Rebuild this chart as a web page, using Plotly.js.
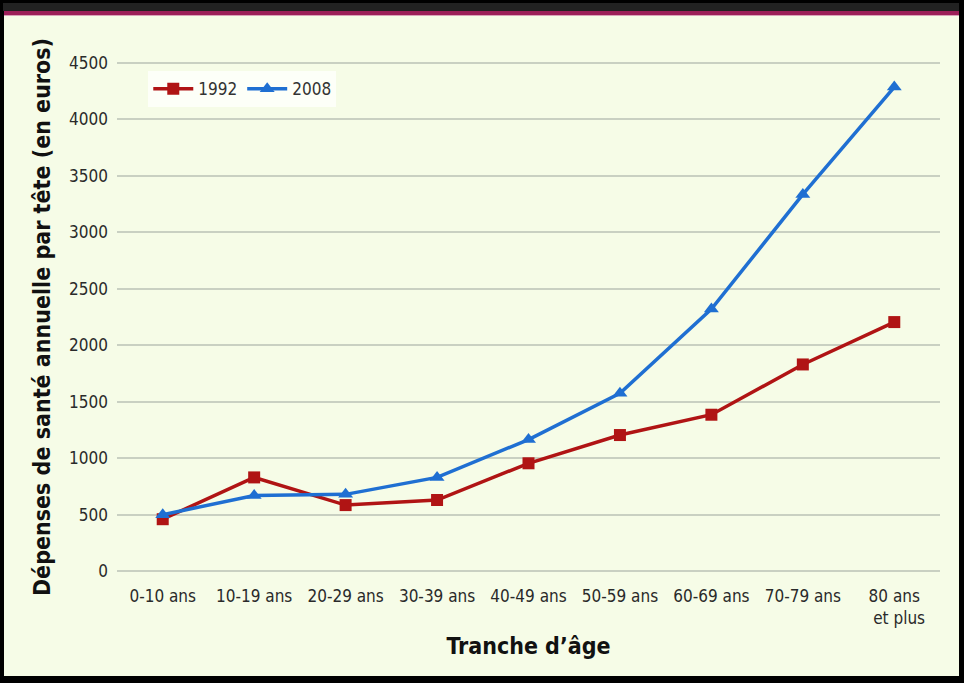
<!DOCTYPE html>
<html>
<head>
<meta charset="utf-8">
<script src="https://cdn.plot.ly/plotly-3.0.1.min.js"></script>
<style>
  html, body { margin:0; padding:0; background:#000; width:964px; height:683px; overflow:hidden; }
  #top { position:absolute; left:3px; top:3px; width:956px; height:8px; background:#222; }
  #stripe { position:absolute; left:4px; top:11px; width:955px; height:4px; background:#9c1f58; }
  #stripe2 { position:absolute; left:4px; top:15px; width:955px; height:1px; background:#d9a3b8; }
  #chart { position:absolute; left:4px; top:16px; width:955px; height:660px; }
</style>
</head>
<body>
<div id="top"></div><div id="stripe"></div><div id="stripe2"></div>
<div id="chart"></div>
<script>
const categories = ["0-10 ans","10-19 ans","20-29 ans","30-39 ans","40-49 ans","50-59 ans","60-69 ans","70-79 ans","80 ans<br>  et plus"];
const values1992 = [460, 830, 585, 630, 955, 1205, 1385, 1830, 2205];
const values2008 = [500, 670, 680, 830, 1165, 1575, 2320, 3335, 4285];
const yTicks = [0,500,1000,1500,2000,2500,3000,3500,4000,4500];

const traces = [
  { x: categories, y: values1992, name: "1992", type: "scatter", mode: "lines+markers",
    line: { color: "#b01414", width: 3.5 },
    marker: { symbol: "square", size: 12, color: "#b01414" } },
  { x: categories, y: values2008, name: "2008", type: "scatter", mode: "lines+markers",
    line: { color: "#1f6fd2", width: 3.5 },
    marker: { symbol: "triangle-up", size: 13, color: "#1f6fd2" } }
];

const cond = "'DejaVu Sans Condensed', 'DejaVu Sans', sans-serif";
const layout = {
  width: 955, height: 660,
  margin: { l: 113, r: 19, t: 44, b: 102 },
  paper_bgcolor: "#f6fce7",
  plot_bgcolor: "#f6fce7",
  font: { family: cond, color: "#333" },
  showlegend: true,
  legend: {
    x: 0.038, y: 0.978, xanchor: "left", yanchor: "top",
    orientation: "h", bgcolor: "#fdfff8", borderwidth: 0,
    font: { size: 17, color: "#333" }, itemwidth: 40
  },
  xaxis: {
    type: "category", range: [-0.5, 8.5],
    showgrid: false, zeroline: false, showline: false, ticks: "",
    ticklabelstandoff: 10,
    tickfont: { size: 17, color: "#2a2a2a" },
    title: { text: "Tranche d’âge", font: { size: 23, color: "#111", family: cond, weight: "bold" }, standoff: 10 }
  },
  yaxis: {
    range: [-25, 4525], tickvals: yTicks, ticktext: yTicks.map(String),
    showgrid: true, gridcolor: "#c9d0c2", gridwidth: 2, zeroline: false,
    showline: false, ticks: "", ticklabelstandoff: 8,
    tickfont: { size: 17, color: "#2a2a2a" },
    title: { text: "Dépenses de santé annuelle par tête (en euros)", font: { size: 23, color: "#111", family: cond, weight: "bold" }, standoff: 12 }
  }
};

Plotly.newPlot("chart", traces, layout, { displayModeBar: false, staticPlot: true });
</script>
</body>
</html>
